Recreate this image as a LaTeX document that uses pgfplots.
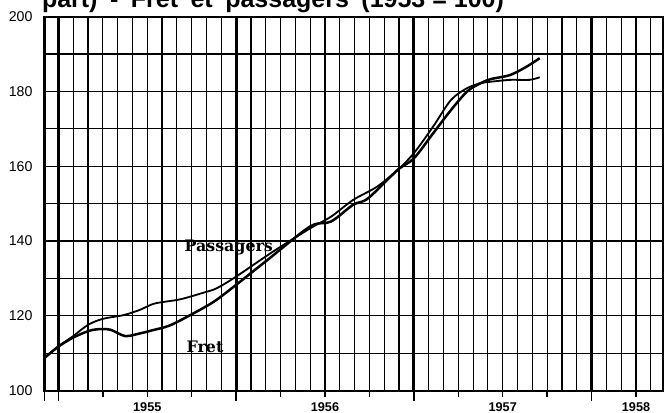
\documentclass[border=0pt]{standalone}
\usepackage{fontspec}
\setmainfont{Liberation Sans}
\newfontfamily\labfont{DejaVu Serif}
\usepackage{pgfplots}
\usepackage{pgfplotstable}
\pgfplotsset{compat=1.18}

% months counted from January 1955 (= 0)
\pgfplotstableread{
m v
-0.95 108.7
0 111.8
1 114.2
2 115.9
2.6 116.4
3.5 116.3
4.5 114.6
5.5 115.3
6.3 116.1
7.5 117.4
8.9 120.2
10.5 123.8
12 128.3
14.1 134.9
17 143.9
18.4 145.2
19.9 149.7
20.9 151.4
22.9 159
24 162.1
25.3 168.8
26.5 175
27.6 180
28.5 182.2
29.2 183.3
30.5 184.4
31.6 186.6
32.5 188.9
}\fret

\pgfplotstableread{
m v
-0.95 108.7
0 111.8
1 114.6
2 117.6
3 119.2
4.4 120.2
5.5 121.6
6.5 123.3
8.2 124.4
9.8 126.2
10.7 127.4
12 130.5
14.5 137.2
17 143.4
18.4 146.5
19.9 151
21.5 154.5
22.9 159
24 163.5
25.3 170.6
26.5 177.7
27.6 180.9
28.5 182.2
29.2 182.6
30.5 183.1
31.8 183.1
32.5 183.8
}\pass

\begin{document}
\begin{tikzpicture}
\begin{axis}[
  name=ax,
  width=371pt, height=224.4pt, scale only axis,
  xmin=-0.95, xmax=40.8, ymin=100, ymax=200,
  axis line style={line width=1.2pt},
  tick align=outside,
  xtick pos=lower, ytick pos=left,
  xtick={3,6,9,15,18,21,27,30,33,39},
  xticklabels={,1955,,,1956,,,1957,,1958},
  minor xtick={1,...,40},
  extra x ticks={-0.95,0,12,24,36},
  extra x tick labels={},
  extra x tick style={
    major grid style={black, line width=1.8pt},
    major tick length=6pt,
    tick style={line width=1.8pt, black}},
  ytick={100,120,...,200},
  minor ytick={110,130,...,190},
  xmajorgrids, xminorgrids, ymajorgrids, yminorgrids,
  grid style={black, line width=0.7pt},
  major grid style={black, line width=0.7pt},
  minor grid style={black, line width=0.7pt},
  major tick length=3.6pt, minor tick length=0pt,
  x tick style={black, line width=0.8pt},
  y tick style={draw=none},
  yticklabel style={font=\fontsize{8.5}{10}\selectfont},
  xticklabel style={font=\bfseries\fontsize{7.6}{9}\selectfont},
  /pgf/number format/assume math mode=true,
]
\addplot[black, line width=1.5pt, smooth, tension=0.5] table[x=m, y=v] {\fret};
\addplot[black, line width=1.1pt, smooth, tension=0.5] table[x=m, y=v] {\pass};
\node[font=\labfont\bfseries\fontsize{9.5}{11}\selectfont] at (axis cs:11.5,138.4) {Passagers};
\node[font=\labfont\bfseries\fontsize{9.5}{11}\selectfont] at (axis cs:9.9,111.7) {Fret};
\end{axis}
\node[anchor=base, font=\bfseries\fontsize{15}{17}\selectfont] at ([xshift=-48.3pt,yshift=5.6pt]ax.north) {part)\enspace-\enspace Fret\enspace et\enspace passagers\enspace (1953 = 100)};
\pgfresetboundingbox
\path[use as bounding box] ([xshift=-26.6pt,yshift=-13.4pt]ax.south west) rectangle ([xshift=2pt,yshift=10pt]ax.north east);
\end{tikzpicture}
\end{document}
